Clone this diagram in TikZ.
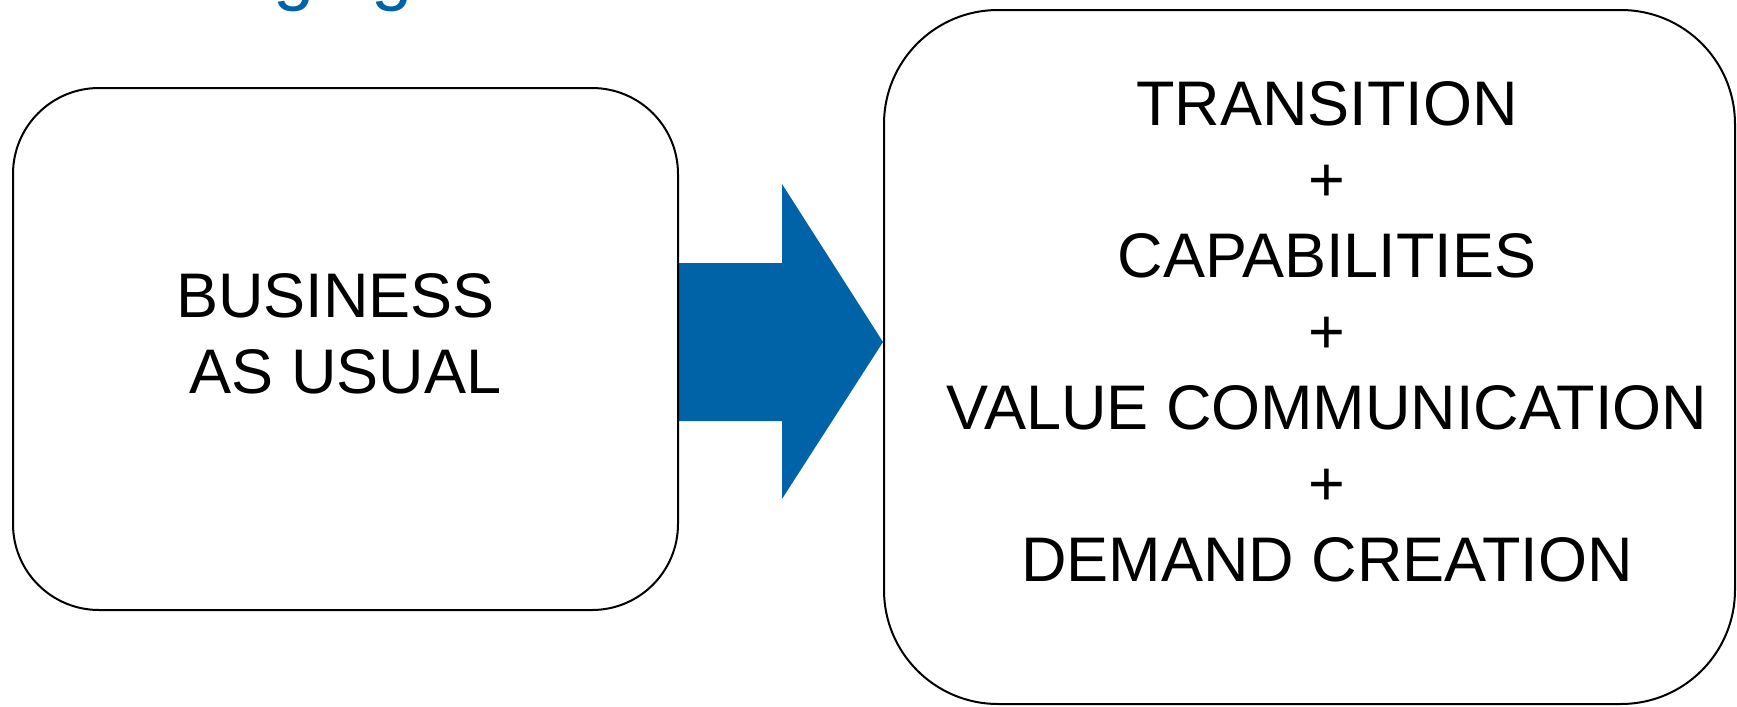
\documentclass[tikz,border=0pt]{standalone}
\usepackage{fontspec}
\setmainfont{Liberation Sans}
\usetikzlibrary{calc,backgrounds}
\definecolor{brandblue}{RGB}{0,99,168}
\begin{document}
\begin{tikzpicture}[x=0.5pt,y=-0.5pt,
  panel/.style={draw=black, line width=1pt, inner sep=0pt, rectangle},
  boxtext/.style={inner sep=0pt, align=center, text=black, font=\fontsize{31.5}{38}\selectfont},
  headline/.style={inner sep=0pt, text=brandblue, font=\fontsize{37}{44}\selectfont},
]
\useasboundingbox (0,0) rectangle (1737,707);

% heading running off the top edge
\begin{scope}
  \clip (0,0) rectangle (1737,707);
  \node[headline, anchor=base] (hg1) at (294,-3.5) {g};
  \node[headline, anchor=base] (hg2) at (392.5,-3.5) {g};
\end{scope}

% the two panels
\node[panel, minimum width=332.5pt, minimum height=261pt, rounded corners=43pt] (bau) at (345.5,349) {};
\node[panel, minimum width=425.5pt, minimum height=347pt, rounded corners=57pt] (goal) at (1309.5,357) {};

% texts
\node[boxtext, anchor=north] (bautext) at (345.5,273)
  {BUSINESS\kern10pt\\AS USUAL};
\node[boxtext, anchor=north] (goaltext) at (1327,81)
  {TRANSITION\\+\\CAPABILITIES\\+\\VALUE COMMUNICATION\\+\\DEMAND CREATION};

% block arrow between the panels
\coordinate (tip) at (goal.west |- 0,342);
\coordinate (tail) at (bau.east |- 0,342);
\begin{pgfonlayer}{background}
  \fill[brandblue] ($(tail)+(0,-79)$) -- ($(tip)+(-101,-79)$) -- ($(tip)+(-101,-158)$)
    -- (tip) -- ($(tip)+(-101,157)$) -- ($(tip)+(-101,79)$) -- ($(tail)+(0,79)$) -- cycle;
\end{pgfonlayer}
\end{tikzpicture}
\end{document}
